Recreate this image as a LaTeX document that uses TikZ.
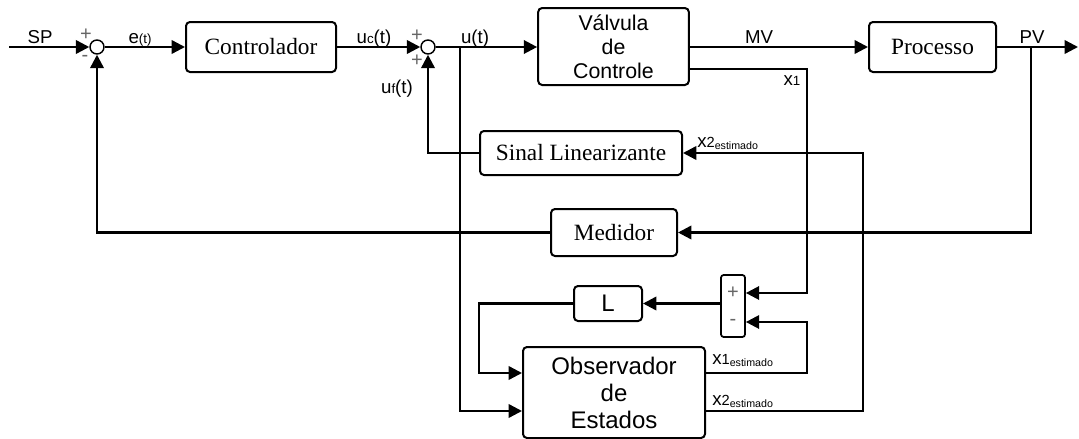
\documentclass[tikz,border=0pt]{standalone}
\usepackage{fontspec}
\setmainfont{Liberation Serif}
\setsansfont{Liberation Sans}
\usetikzlibrary{arrows.meta,calc}
\newcommand{\sml}[1]{{\fontsize{10}{12}\selectfont #1}}
\newcommand{\est}[1]{x{\fontsize{11}{12}\selectfont #1}\raisebox{-2pt}{\fontsize{8}{10}\selectfont estimado}}

\begin{document}
\begin{tikzpicture}[x=0.75pt, y=-0.75pt,
    block/.style={draw, line width=1.5pt, rounded corners=3pt, inner sep=0pt, font=\fontsize{17.5}{20}\selectfont},
    sblock/.style={block, align=center, font=\sffamily\fontsize{16}{18}\selectfont},
    sum/.style={draw, circle, line width=1.1pt, minimum size=10.5pt, inner sep=0pt},
    lbl/.style={anchor=base, inner sep=0pt, font=\sffamily\fontsize{14}{16}\selectfont},
    sgn/.style={inner sep=0pt, text=black!60, font=\sffamily\fontsize{15}{16}\selectfont},
    wire/.style={line width=1.8pt, -{Triangle[length=10pt,width=10pt]}}]
    \useasboundingbox (0,0) rectangle (1079,439);

    \node[sum] (s1) at (97,47) {};
    \node[sum] (s2) at (428,47) {};
    \node[block, minimum width=112.5pt, minimum height=37.5pt] (ctrl) at (261,47) {Controlador};
    \node[sblock, minimum width=113pt, minimum height=57.75pt] (valve) at (613.5,46.5) {Válvula\\de\\Controle};
    \node[block, minimum width=95.25pt, minimum height=37.5pt] (proc) at (932.5,47) {Processo};
    \node[block, minimum width=151.5pt, minimum height=33pt] (sinal) at (581,153) {Sinal Linearizante};
    \node[block, minimum width=94.5pt, minimum height=35.25pt] (med) at (614,232.5) {Medidor};
    \node[sblock, minimum width=51pt, minimum height=26.25pt, font=\sffamily\fontsize{18}{20}\selectfont] (L) at (608,303.5) {L};
    \node[draw, line width=1.3pt, rounded corners=2pt, minimum width=18pt, minimum height=46.5pt] (comp) at (733,306) {};
    \node[sblock, minimum width=136.5pt, minimum height=68.25pt, font=\sffamily\fontsize{18}{20.25}\selectfont] (obs) at (614,392.5) {Observador\\de\\Estados};

    \coordinate (sp) at (9,47);
    \coordinate (out) at (1078,47);
    \coordinate (ub) at (460,47);
    \coordinate (pvb) at (1031,47);
    \coordinate (x1c) at (807,69);
    \coordinate (x2c) at (863,153);
    \coordinate (lb) at (479,303.5);
    \coordinate (oi1) at ($(obs.west)+(0,-19.5)$);
    \coordinate (oi2) at ($(obs.west)+(0,18.5)$);
    \coordinate (oo1) at ($(obs.east)+(0,-19.5)$);
    \coordinate (oo2) at ($(obs.east)+(0,18.5)$);
    \coordinate (cp) at ($(comp.east)+(0,-13)$);
    \coordinate (cm) at ($(comp.east)+(0,16)$);

    \draw[wire] (sp) -- (s1);
    \draw[wire] (s1) -- (ctrl);
    \draw[wire] (ctrl) -- (s2);
    \draw[wire] (s2) -- (s2 -| valve.west);
    \draw[wire] (valve.east |- proc) -- (proc);
    \draw[wire] (proc) -- (out);
    \draw[wire] (pvb) |- (med);
    \draw[wire] (med) -| (s1);
    \draw[wire] (sinal) -| (s2);
    \draw[wire] (ub) |- (oi2);
    \draw[wire] (x1c -| valve.east) -- (x1c) |- (cp);
    \draw[wire] (comp.west |- L) -- (L);
    \draw[wire] (L.west) -- (lb) |- (oi1);
    \draw[wire] (oo1) -| (cm -| x1c) -- (cm);
    \draw[wire] (oo2) -| (x2c) -- (sinal);

    \node[lbl] (lsp) at (40,43) {SP};
    \node[lbl] (le) at (140,43) {e\sml{(t)}};
    \node[lbl] (luc) at (374,43) {u\sml{c}(t)};
    \node[lbl] (lu) at (475,43) {u(t)};
    \node[lbl] (luf) at (397,93) {u\sml{f}(t)};
    \node[lbl] (lmv) at (759,43) {MV};
    \node[lbl] (lpv) at (1032,43) {PV};
    \node[lbl] (lx1) at (792,85) {x\sml{1}};
    \node[lbl, anchor=base west] (lx2s) at (697,147) {\est{2}};
    \node[lbl, anchor=base west] (lx1e) at (712,364) {\est{1}};
    \node[lbl, anchor=base west] (lx2e) at (712,405) {\est{2}};

    \node[sgn] (p1) at (86,35) {+};
    \node[sgn] (m1) at (85,58) {-};
    \node[sgn] (p2) at (417,36) {+};
    \node[sgn] (p3) at (417,61) {+};
    \node[sgn] (cpl) at (733,293) {+};
    \node[sgn] (cmi) at (733,322) {-};
\end{tikzpicture}
\end{document}
